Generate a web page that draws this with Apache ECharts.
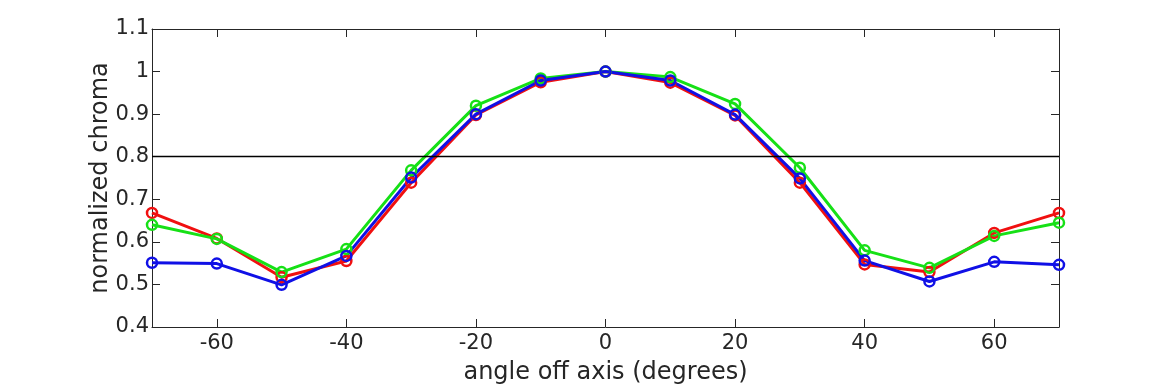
<!DOCTYPE html>
<html>
<head>
<meta charset="utf-8">
<script src="https://cdn.jsdelivr.net/npm/echarts@6/dist/echarts.min.js"></script>
<style>
html,body{margin:0;padding:0;background:#fff;}
#chart{width:1170px;height:390px;}
</style>
</head>
<body>
<div id="chart"></div>
<script>
const angles = [-70, -60, -50, -40, -30, -20, -10, 0, 10, 20, 30, 40, 50, 60, 70];
const redValues   = [0.668, 0.608, 0.517, 0.555, 0.739, 0.898, 0.975, 1.0, 0.974, 0.897, 0.739, 0.547, 0.529, 0.621, 0.668];
const greenValues = [0.640, 0.607, 0.529, 0.583, 0.768, 0.920, 0.984, 1.0, 0.987, 0.924, 0.774, 0.580, 0.539, 0.614, 0.645];
const blueValues  = [0.551, 0.549, 0.499, 0.567, 0.751, 0.900, 0.979, 1.0, 0.979, 0.899, 0.749, 0.556, 0.507, 0.553, 0.546];
const xTickValues = [-60, -40, -20, 0, 20, 40, 60];
const thresholdValue = 0.8;
const xAxisTitle = 'angle off axis (degrees)';
const yAxisTitle = 'normalized chroma';

const textColor = '#262626';
const fontFamily = '"DejaVu Sans", "Liberation Sans", Arial, sans-serif';

function pairs(vals){ return angles.map((a,i)=>[a, vals[i]]); }

function lineSeries(name, color, vals, extra){
  return Object.assign({
    name: name,
    type: 'line',
    data: pairs(vals),
    clip: false,
    symbol: 'circle',
    symbolSize: 10,
    showSymbol: true,
    lineStyle: {color: color, width: 3},
    itemStyle: {color: 'rgba(0,0,0,0)', borderColor: color, borderWidth: 2.5},
    emphasis: {disabled: true},
    animation: false,
    z: 3
  }, extra || {});
}

const chart = echarts.init(document.getElementById('chart'), null, {renderer: 'canvas'});
const option = {
  backgroundColor: '#ffffff',
  animation: false,
  grid: {left: 152, right: 111, top: 29, bottom: 62, containLabel: false},
  xAxis: [{
    type: 'value',
    min: -70, max: 70,
    position: 'bottom',
    name: xAxisTitle,
    nameLocation: 'middle',
    nameGap: 34,
    nameTextStyle: {color: textColor, fontSize: 24, fontFamily: fontFamily},
    axisLine: {show: true, onZero: false, lineStyle: {color: textColor, width: 1}},
    axisTick: {show: true, inside: true, length: 8, customValues: xTickValues, lineStyle: {color: textColor}},
    axisLabel: {show: true, customValues: xTickValues, color: textColor, fontSize: 21, fontFamily: fontFamily, margin: 6},
    splitLine: {show: false}
  }, {
    type: 'value',
    min: -70, max: 70,
    position: 'top',
    axisLine: {show: true, onZero: false, lineStyle: {color: textColor, width: 1}},
    axisTick: {show: true, inside: true, length: 8, customValues: xTickValues, lineStyle: {color: textColor}},
    axisLabel: {show: false},
    splitLine: {show: false}
  }],
  yAxis: [{
    type: 'value',
    min: 0.4, max: 1.1, interval: 0.1,
    position: 'left',
    axisLine: {show: true, onZero: false, lineStyle: {color: textColor, width: 1}},
    axisTick: {show: true, inside: true, length: 8, lineStyle: {color: textColor}},
    axisLabel: {
      color: textColor, fontSize: 21, fontFamily: fontFamily, margin: 3,
      formatter: v => String(parseFloat(v.toFixed(2)))
    },
    splitLine: {show: false}
  }, {
    type: 'value',
    min: 0.4, max: 1.1, interval: 0.1,
    position: 'right',
    axisLine: {show: true, onZero: false, lineStyle: {color: textColor, width: 1}},
    axisTick: {show: true, inside: true, length: 8, lineStyle: {color: textColor}},
    axisLabel: {show: false},
    splitLine: {show: false}
  }, {
    type: 'value',
    min: 0.4, max: 1.1, interval: 0.1,
    position: 'left',
    offset: 0,
    name: yAxisTitle,
    nameLocation: 'middle',
    nameGap: 39,
    nameTextStyle: {color: textColor, fontSize: 24, fontFamily: fontFamily},
    axisLine: {show: false},
    axisTick: {show: false},
    axisLabel: {show: false},
    splitLine: {show: false}
  }],
  series: [
    lineSeries('red', '#f01010', redValues, {
      markLine: {
        silent: true, symbol: ['none','none'], animation: false,
        label: {show: false},
        lineStyle: {color: '#000000', width: 1.3, type: 'solid'},
        data: [{yAxis: thresholdValue}]
      }
    }),
    lineSeries('green', '#16e016', greenValues),
    lineSeries('blue', '#1010e6', blueValues)
  ]
};
chart.setOption(option);
</script>
</body>
</html>
